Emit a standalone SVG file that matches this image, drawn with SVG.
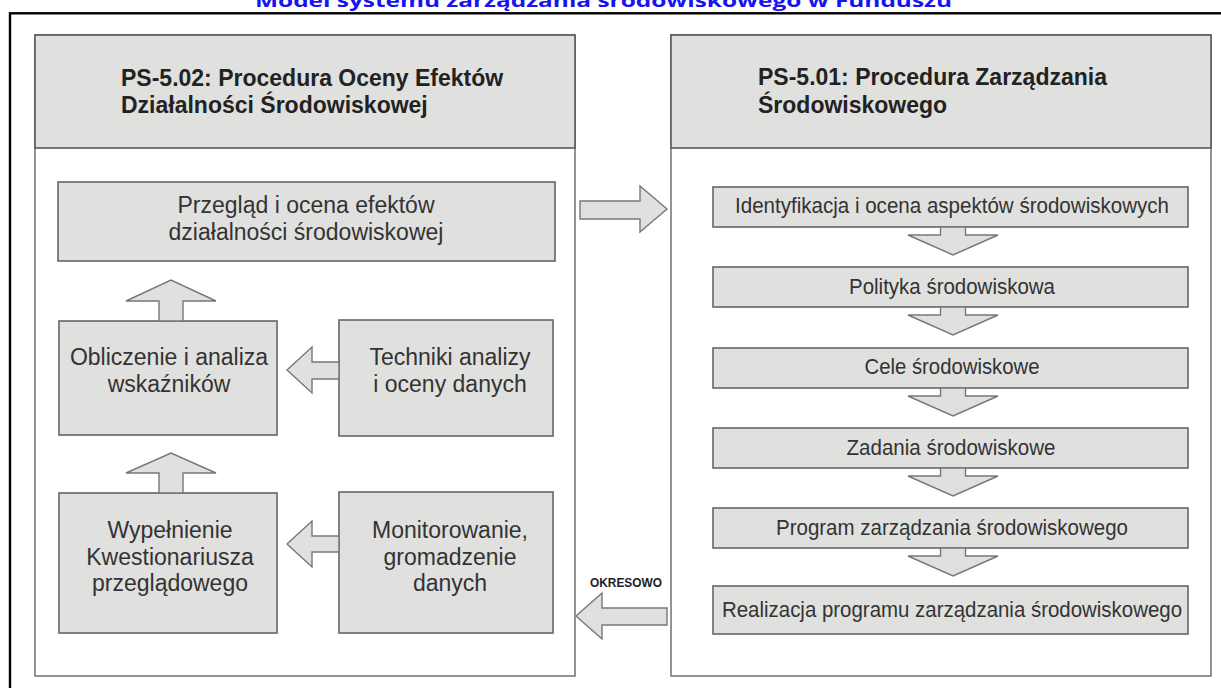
<svg xmlns="http://www.w3.org/2000/svg" width="1221" height="688" viewBox="0 0 1221 688">
<style>
.panel{fill:#fff;stroke:#7a7a7a;stroke-width:1.6}
.hdr{fill:#e0e0df;stroke:#5a5a5a;stroke-width:1.6}
.box{fill:#e0e0df;stroke:#666;stroke-width:1.6}
.arr{fill:#e0e0df;stroke:#777;stroke-width:1.4;stroke-linejoin:miter}
.ht{font-family:"Liberation Sans",Arial,sans-serif;font-weight:bold;font-size:23px;fill:#222}
.bt{font-family:"Liberation Sans",Arial,sans-serif;font-size:23px;fill:#333;text-anchor:middle}
.rt{font-family:"Liberation Sans",Arial,sans-serif;font-size:22px;fill:#333;text-anchor:middle}
</style>
<rect width="1221" height="688" fill="#fff"/>
<text x="255" y="7" font-family="'Open Sans','Liberation Sans',sans-serif" font-weight="bold" font-size="18" fill="#1515f0" textLength="697" lengthAdjust="spacingAndGlyphs">Model systemu zarządzania środowiskowego w Funduszu</text>
<rect x="10" y="13.3" width="1300" height="800" fill="none" stroke="#000" stroke-width="2.4"/>

<g id="panel-left">
<rect class="panel" x="35" y="35" width="540" height="641"/>
<rect class="hdr" x="35" y="35" width="540" height="113"/>
<text class="ht" x="121" y="86">PS-5.02: Procedura Oceny Efektów</text>
<text class="ht" x="121" y="113">Działalności Środowiskowej</text>
</g>
<g id="panel-right">
<rect class="panel" x="671" y="35" width="540" height="641"/>
<rect class="hdr" x="671" y="35" width="540" height="113"/>
<text class="ht" x="758" y="85">PS-5.01: Procedura Zarządzania</text>
<text class="ht" x="758" y="113">Środowiskowego</text>
</g>

<g id="n-przeglad">
<rect class="box" x="58" y="182" width="497" height="79"/>
<text class="bt" x="306" y="213">Przegląd i ocena efektów</text>
<text class="bt" x="306" y="240">działalności środowiskowej</text>
</g>
<g id="n-obliczenie">
<rect class="box" x="59" y="321" width="218" height="114"/>
<text class="bt" x="169" y="365">Obliczenie i analiza</text>
<text class="bt" x="169" y="392">wskaźników</text>
</g>
<g id="n-techniki">
<rect class="box" x="339" y="320" width="214" height="116"/>
<text class="bt" x="450" y="365">Techniki analizy</text>
<text class="bt" x="450" y="392">i oceny danych</text>
</g>
<g id="n-wypelnienie">
<rect class="box" x="59" y="493" width="218" height="140"/>
<text class="bt" x="170" y="538">Wypełnienie</text>
<text class="bt" x="170" y="565">Kwestionariusza</text>
<text class="bt" x="170" y="591">przeglądowego</text>
</g>
<g id="n-monitorowanie">
<rect class="box" x="339" y="492" width="214" height="141"/>
<text class="bt" x="450" y="538">Monitorowanie,</text>
<text class="bt" x="450" y="565">gromadzenie</text>
<text class="bt" x="450" y="591">danych</text>
</g>

<g id="n-identyfikacja">
<rect class="box" x="713" y="187" width="475" height="40"/>
<text class="rt" x="952" y="213" textLength="434" lengthAdjust="spacingAndGlyphs">Identyfikacja i ocena aspektów środowiskowych</text>
</g>
<g id="n-polityka">
<rect class="box" x="713" y="267" width="475" height="40"/>
<text class="rt" x="952" y="294" textLength="206" lengthAdjust="spacingAndGlyphs">Polityka środowiskowa</text>
</g>
<g id="n-cele">
<rect class="box" x="713" y="348" width="475" height="40"/>
<text class="rt" x="952" y="374" textLength="175" lengthAdjust="spacingAndGlyphs">Cele środowiskowe</text>
</g>
<g id="n-zadania">
<rect class="box" x="713" y="428" width="475" height="40"/>
<text class="rt" x="951" y="455" textLength="209" lengthAdjust="spacingAndGlyphs">Zadania środowiskowe</text>
</g>
<g id="n-program">
<rect class="box" x="713" y="508" width="475" height="40"/>
<text class="rt" x="952" y="535" textLength="352" lengthAdjust="spacingAndGlyphs">Program zarządzania środowiskowego</text>
</g>
<g id="n-realizacja">
<rect class="box" x="713" y="586" width="475" height="48"/>
<text class="rt" x="952" y="617" textLength="460" lengthAdjust="spacingAndGlyphs">Realizacja programu zarządzania środowiskowego</text>
</g>

<g id="connectors">
<polygon class="arr" points="159,321 159,301 126,301 171,280 216,301 183,301 183,321"/>
<polygon class="arr" points="159,493 159,473 126,473 171,453 216,473 183,473 183,493"/>
<polygon class="arr" points="339,362 312,362 312,347 287,370 312,393 312,379 339,379"/>
<polygon class="arr" points="339,536 312,536 312,521 287,544 312,567 312,552 339,552"/>
<polygon class="arr" points="580,201 640,201 640,186 667,209 640,232 640,219 580,219"/>
<polygon class="arr" points="667,608 602,608 602,593 576,616 602,639 602,625 667,625"/>
<text x="590" y="587" font-family="'Liberation Sans',Arial,sans-serif" font-weight="bold" font-size="13" fill="#222" textLength="72" lengthAdjust="spacingAndGlyphs">OKRESOWO</text>
<polygon class="arr" points="940.5,227 940.5,235 908,235 953,255 998,235 965.5,235 965.5,227"/>
<polygon class="arr" points="940.5,307 940.5,315 908,315 953,335 998,315 965.5,315 965.5,307"/>
<polygon class="arr" points="940.5,388 940.5,396 908,396 953,416 998,396 965.5,396 965.5,388"/>
<polygon class="arr" points="940.5,468 940.5,476 908,476 953,496 998,476 965.5,476 965.5,468"/>
<polygon class="arr" points="940.5,548 940.5,556 908,556 953,576 998,556 965.5,556 965.5,548"/>
</g>
</svg>
